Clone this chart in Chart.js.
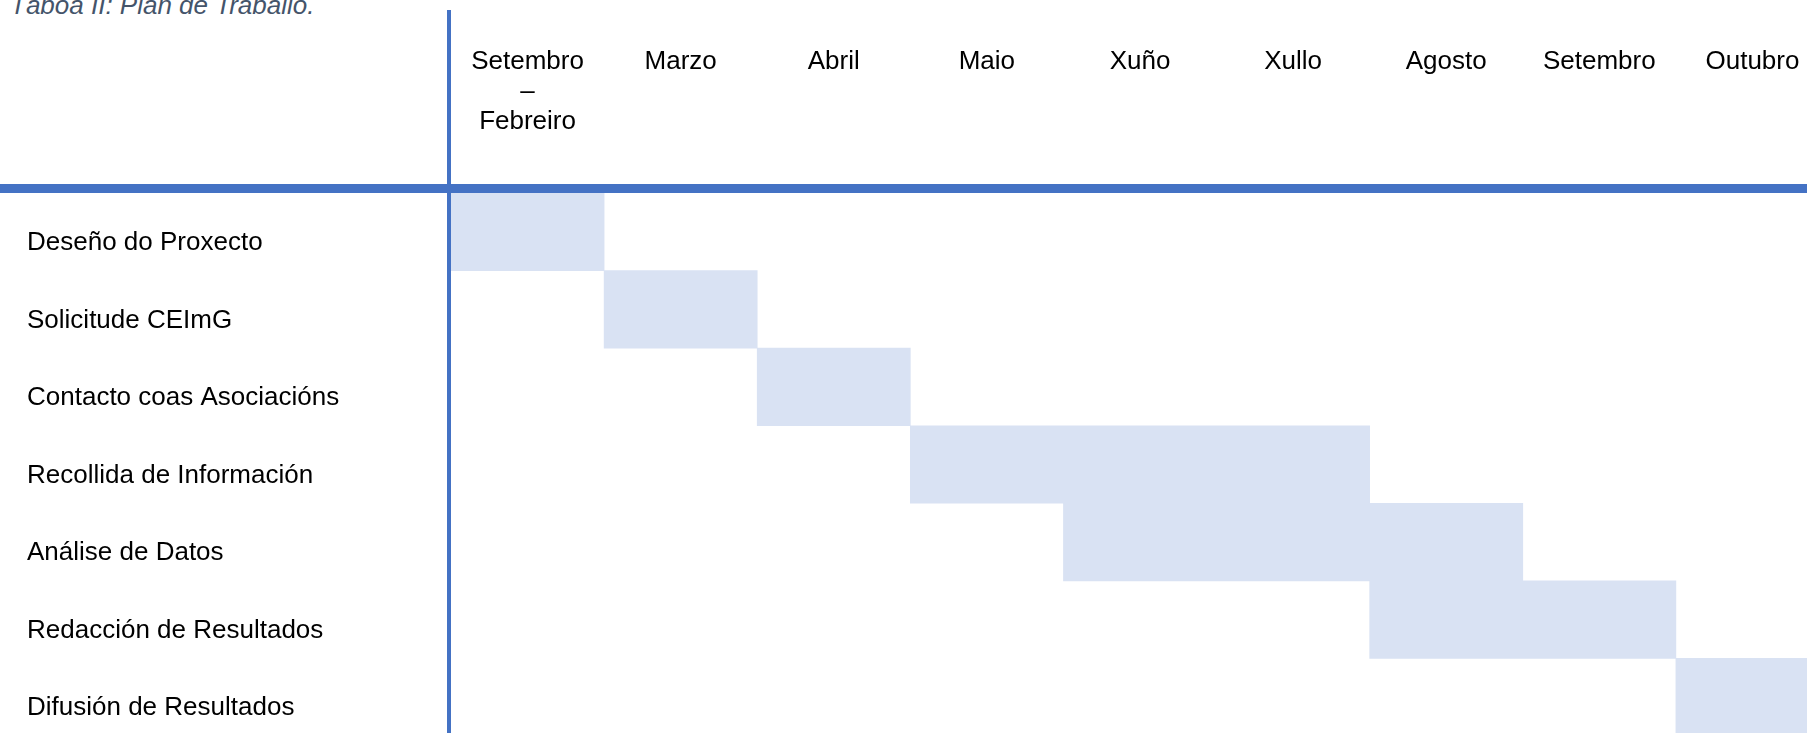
<!DOCTYPE html>
<html>
<head>
<meta charset="utf-8">
<script src="https://cdn.jsdelivr.net/npm/chart.js@4"></script>
<style>
    html, body { margin: 0; padding: 0; background: #fff; overflow: hidden; }
    #lenzo { position: relative; width: 1830px; height: 736px; }
    .pe {
        position: absolute; left: 10px; top: -8px;
        font: italic 26px/26px "Liberation Sans", Arial, sans-serif;
        color: #44546A; white-space: nowrap;
    }
</style>
</head>
<body>
<div class="pe">Táboa II: Plan de Traballo.</div>
<div id="lenzo"><canvas id="graficaPlan"></canvas></div>
<script>
const meses = [['Setembro', '–', 'Febreiro'], 'Marzo', 'Abril', 'Maio', 'Xuño', 'Xullo', 'Agosto', 'Setembro', 'Outubro'];
const tarefas = [
    'Deseño do Proxecto',
    'Solicitude CEImG',
    'Contacto coas Asociacións',
    'Recollida de Información',
    'Análise de Datos',
    'Redacción de Resultados',
    'Difusión de Resultados'
];
// columna de inicio e fin (índice de mes) de cada tarefa
const inicio = [0, 1, 2, 3, 4, 6, 8];
const fin = [1, 2, 3, 6, 7, 8, 9];

const azul = '#4472C4';
const fondo = '#D9E2F3';
const fonte = '"Liberation Sans", Arial, sans-serif';

// liñas grosas da táboa
const liñasTaboa = {
    id: 'liñasTaboa',
    afterDraw(chart) {
        const ctx = chart.ctx;
        const area = chart.chartArea;
        ctx.save();
        ctx.fillStyle = azul;
        ctx.fillRect(area.left - 4, 10, 4, chart.height);
        ctx.fillRect(0, area.top - 9, chart.width, 9);
        ctx.restore();
    }
};

document.addEventListener('DOMContentLoaded', () => {
    const ctx = document.getElementById('graficaPlan').getContext('2d');
    new Chart(ctx, {
        type: 'bar',
        data: {
            labels: tarefas,
            datasets: [{
                label: 'Plan',
                data: tarefas.map((t, i) => [inicio[i], fin[i]]),
                backgroundColor: fondo,
                borderWidth: 0,
                barPercentage: 1,
                categoryPercentage: 1
            }]
        },
        options: {
            indexAxis: 'y',
            responsive: true,
            maintainAspectRatio: false,
            animation: false,
            layout: { padding: { left: 27, right: 1, top: 0, bottom: 0 } },
            plugins: {
                legend: { display: false },
                title: { display: false },
                tooltip: { enabled: false }
            },
            scales: {
                x: {
                    type: 'linear',
                    display: false,
                    min: 0,
                    max: meses.length
                },
                meses: {
                    type: 'category',
                    position: 'top',
                    labels: meses,
                    offset: true,
                    grid: { display: false, drawTicks: false },
                    border: { display: false },
                    ticks: {
                        color: '#000',
                        padding: 56,
                        crossAlign: 'far',
                        maxRotation: 0,
                        autoSkip: false,
                        font: { family: fonte, size: 26, lineHeight: 1.15 }
                    },
                    afterFit: scale => {
                        scale.height = 193;
                        scale.paddingLeft = 0;
                        scale.paddingRight = 0;
                    }
                },
                y: {
                    type: 'category',
                    offset: true,
                    grid: { display: false, drawTicks: false },
                    border: { display: false },
                    ticks: {
                        color: '#000',
                        crossAlign: 'far',
                        labelOffset: 11,
                        autoSkip: false,
                        font: { family: fonte, size: 26 }
                    },
                    afterFit: scale => {
                        scale.width = 424;
                        scale.paddingTop = 0;
                        scale.paddingBottom = 0;
                    }
                }
            }
        },
        plugins: [liñasTaboa]
    });
});
</script>
</body>
</html>
